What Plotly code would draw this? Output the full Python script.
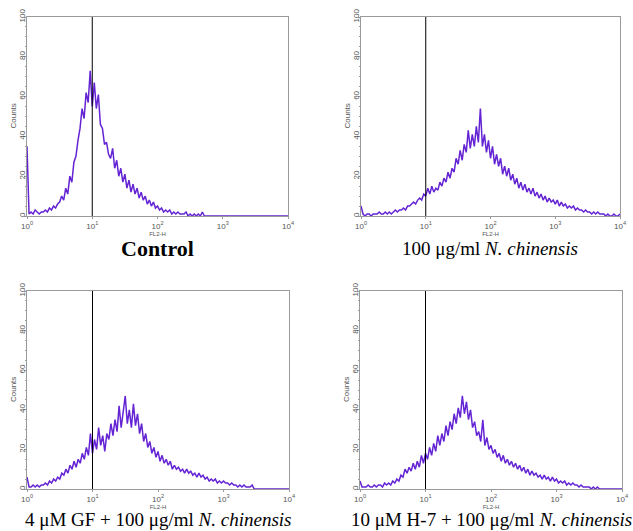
import numpy as np
import plotly.graph_objects as go

# ---- data (counts, 32 channels per decade, 10^0 .. 10^4) ----
CHANNELS_PER_DECADE = 32
N_CHANNELS = 4 * CHANNELS_PER_DECADE + 1
channels = 10 ** (np.arange(N_CHANNELS) / CHANNELS_PER_DECADE)

control = [
    35, 1, 2, 1, 3, 2, 1, 2,
    2, 3, 2, 4, 3, 5, 4, 6,
    7, 10, 8, 14, 11, 20, 17, 27,
    30, 38, 44, 54, 49, 62, 57, 73,
    55, 67, 54, 61, 46, 44, 36, 37,
    31, 29, 34, 24, 28, 20, 24, 17,
    21, 14, 18, 12, 16, 11, 14, 9,
    12, 8, 10, 6, 8, 5, 7, 4,
    5, 3, 4, 2, 3, 2, 3, 1,
    2, 1, 2, 1, 1, 1, 2, 0,
    1, 0, 1, 0, 1, 0, 2, 0,
    0, 0, 0, 0, 0, 0, 0, 0,
    0, 0, 0, 0, 0, 0, 0, 0,
    0, 0, 0, 0, 0, 0, 0, 0,
    0, 0, 0, 0, 0, 0, 0, 0,
    0, 0, 0, 0, 0, 0, 0, 0,
    0,
]

nc100 = [
    5, 1, 0, 1, 1, 0, 1, 1,
    1, 2, 1, 1, 2, 1, 2, 1,
    2, 3, 2, 3, 3, 4, 3, 5,
    5, 6, 7, 6, 8, 9, 8, 11,
    10, 14, 11, 15, 12, 14, 13, 17,
    15, 19, 17, 22, 19, 24, 22, 29,
    26, 33, 28, 36, 32, 43, 34, 41,
    35, 45, 37, 54, 35, 41, 32, 38,
    29, 35, 26, 31, 25, 29, 21, 25,
    20, 24, 18, 21, 16, 19, 14, 17,
    13, 16, 12, 14, 11, 14, 10, 12,
    9, 11, 8, 10, 7, 9, 7, 8,
    6, 8, 5, 7, 5, 6, 4, 5,
    4, 5, 3, 4, 3, 3, 2, 3,
    2, 2, 1, 2, 1, 2, 1, 1,
    1, 0, 1, 0, 0, 1, 0, 0,
    1,
]

gf_nc = [
    6, 1, 1, 2, 1, 2, 1, 2,
    2, 3, 2, 4, 3, 5, 4, 6,
    5, 8, 7, 10, 8, 12, 10, 14,
    11, 15, 13, 18, 15, 21, 17, 28,
    18, 25, 20, 31, 22, 27, 19, 28,
    25, 33, 27, 35, 29, 42, 31, 39,
    47, 33, 40, 31, 43, 32, 38, 28,
    33, 24, 28, 21, 24, 18, 21, 16,
    19, 14, 17, 13, 15, 12, 14, 10,
    12, 10, 11, 9, 10, 8, 10, 8,
    9, 7, 8, 6, 8, 6, 7, 5,
    6, 4, 5, 4, 5, 3, 4, 3,
    4, 3, 3, 2, 3, 2, 2, 1,
    2, 1, 2, 1, 1, 1, 2, 0,
    0, 0, 0, 0, 0, 0, 0, 0,
    0, 0, 0, 0, 0, 0, 0, 0,
    0,
]

h7_nc = [
    4, 1, 1, 1, 2, 1, 1, 2,
    1, 2, 2, 1, 3, 2, 3, 2,
    4, 3, 5, 4, 7, 6, 10, 8,
    11, 9, 13, 10, 14, 11, 17, 13,
    18, 15, 21, 17, 23, 19, 27, 22,
    28, 24, 32, 27, 34, 30, 38, 33,
    41, 36, 47, 38, 44, 35, 40, 31,
    34, 27, 29, 24, 35, 22, 26, 20,
    22, 18, 20, 16, 18, 14, 17, 13,
    15, 12, 14, 11, 13, 10, 12, 9,
    11, 8, 10, 7, 9, 7, 8, 6,
    7, 5, 7, 5, 6, 4, 6, 4,
    5, 3, 4, 3, 4, 2, 3, 2,
    3, 2, 2, 1, 2, 1, 1, 1,
    1, 0, 1, 0, 1, 0, 0, 0,
    0, 0, 0, 0, 0, 0, 0, 0,
    0,
]

series = [control, nc100, gf_nc, h7_nc]
titles = [
    "<b>Control</b>",
    "100 μg/ml <i>N. chinensis</i>",
    "4 μM GF + 100 μg/ml <i>N. chinensis</i>",
    "10 μM H-7 + 100 μg/ml <i>N. chinensis</i>",
]
title_sizes = [22, 19, 19, 19]
x_tickvals = [1, 10, 100, 1000, 10000]
x_ticktext = ["10<sup>0</sup>", "10<sup>1</sup>", "10<sup>2</sup>", "10<sup>3</sup>", "10<sup>4</sup>"]
y_tickvals = [0, 20, 40, 60, 80, 100]
MARKER_X = 10  # vertical marker at 10^1

# ---- layout ----
W, H = 633, 531
# panel boxes in pixels: (left, right, top, bottom)
boxes = [(27, 288, 17, 216), (361, 620, 17, 216), (27, 289, 291, 489), (360, 622, 291, 489)]
title_y_px = [248, 248, 519, 519]

fig = go.Figure()
AX_COL = "#9a9a9a"
TXT_COL = "#555555"
LINE_COL = "#6424d4"

for k, (vals, (l, r, t, b)) in enumerate(zip(series, boxes)):
    n = k + 1
    xa = "x" if n == 1 else f"x{n}"
    ya = "y" if n == 1 else f"y{n}"
    fig.add_trace(go.Scatter(
        x=channels, y=vals, mode="lines", xaxis=xa, yaxis=ya,
        line=dict(color=LINE_COL, width=1.5), showlegend=False, hoverinfo="skip",
    ))
    xkey = "xaxis" if n == 1 else f"xaxis{n}"
    ykey = "yaxis" if n == 1 else f"yaxis{n}"
    fig.layout[xkey] = dict(
        type="log", range=[0, 4], domain=[l / W, r / W], anchor=ya, automargin=False,
        tickvals=x_tickvals, ticktext=x_ticktext,
        tickfont=dict(family="Liberation Sans", size=8, color=TXT_COL),
        showgrid=False, zeroline=False, showline=True, linecolor=AX_COL, linewidth=1,
        mirror=True, ticks="outside", ticklen=2, tickcolor=AX_COL,
        title=dict(text="FL2-H", font=dict(family="Liberation Sans", size=6, color=TXT_COL), standoff=0),
        fixedrange=True,
    )
    fig.layout[ykey] = dict(
        range=[0, 100], domain=[1 - b / H, 1 - t / H], anchor=xa, automargin=False,
        tickvals=y_tickvals, tickangle=-90, ticklabelstandoff=-4,
        tickfont=dict(family="Liberation Sans", size=8, color=TXT_COL),
        showgrid=False, zeroline=False, showline=True, linecolor=AX_COL, linewidth=1,
        mirror=True, ticks="outside", ticklen=2, tickcolor=AX_COL,
        minor=dict(dtick=5, ticks="outside", ticklen=1, tickcolor=AX_COL),
        fixedrange=True,
    )
    # y-axis title "Counts"
    fig.add_annotation(
        text="Counts", xref="paper", yref="paper",
        x=(l - 14) / W, y=1 - ((t + b) / 2) / H, xanchor="center", yanchor="middle",
        textangle=-90, showarrow=False,
        font=dict(family="Liberation Sans", size=8, color=TXT_COL),
    )
    fig.add_shape(type="line", xref=xa, yref=ya, x0=MARKER_X, x1=MARKER_X, y0=0, y1=100,
                  line=dict(color="black", width=1))
    fig.add_annotation(
        text=titles[k], xref="paper", yref="paper",
        x=(l + r) / 2 / W, y=1 - title_y_px[k] / H, xanchor="center", yanchor="middle",
        showarrow=False,
        font=dict(family="Liberation Serif", size=title_sizes[k], color="black"),
    )

fig.update_layout(
    template="none",
    width=W, height=H, margin=dict(l=0, r=0, t=0, b=0, autoexpand=False),
    paper_bgcolor="white", plot_bgcolor="white",
)

fig.write_html(
    "out.html",
    config={"displayModeBar": False, "staticPlot": True},
    post_script="document.body.style.margin='0';document.body.style.padding='0';",
)
